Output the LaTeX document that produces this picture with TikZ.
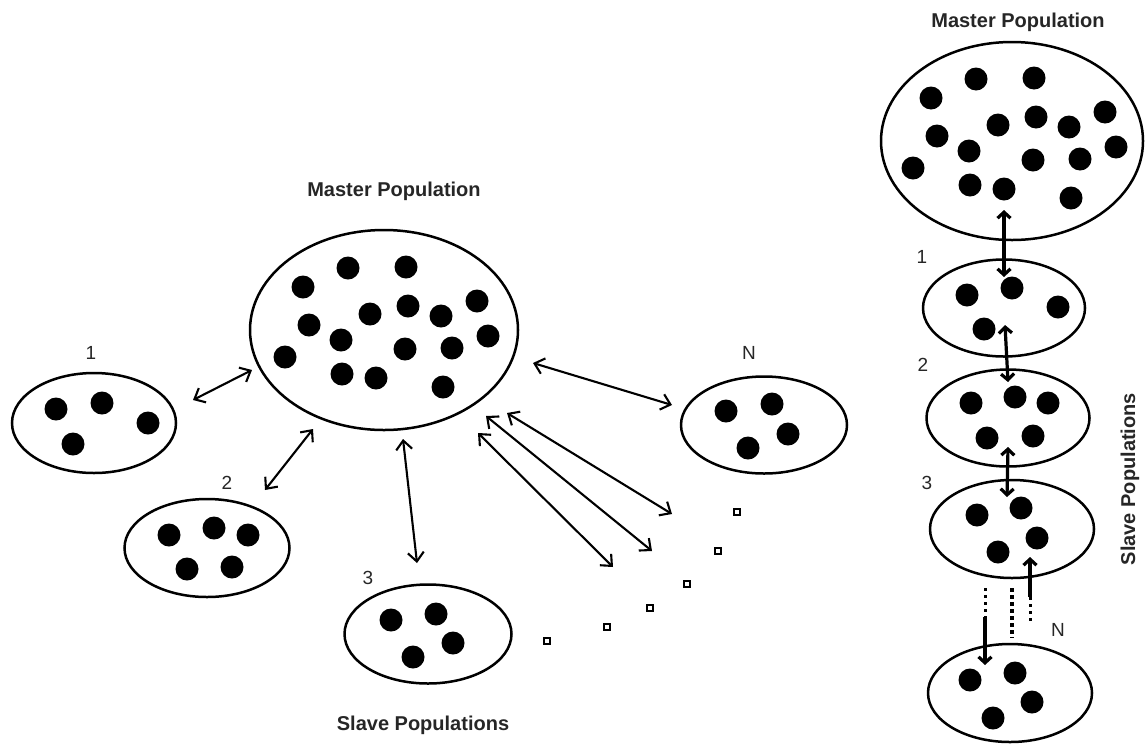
\documentclass[tikz,border=0pt]{standalone}
\usepackage{fontspec}
\setmainfont{Liberation Sans}
\usetikzlibrary{arrows.meta,shapes.geometric}
\begin{document}
\begin{tikzpicture}[x=1pt,y=-1pt,
  pop/.style 2 args={draw, ellipse, line width=2.5pt, inner sep=0pt, minimum width=#1pt, minimum height=#2pt},
  title/.style={font=\fontsize{20}{24}\selectfont\bfseries, text=black!85},
  lab/.style={font=\fontsize{19}{23}\selectfont, text=black!85},
  thin link/.style={line width=2.1pt, {Straight Barb[length=9pt,width=16pt]}-{Straight Barb[length=9pt,width=16pt]}},
  thick link/.style={line width=3.2pt, {Straight Barb[length=6pt,width=13pt]}-{Straight Barb[length=6pt,width=13pt]}},
  thick one/.style={line width=3.2pt, -{Straight Barb[length=6pt,width=13pt]}},
  dotline/.style={line width=3pt, dash pattern=on 2.5pt off 4.5pt},
  dotlinebig/.style={line width=4.5pt, dash pattern=on 4pt off 3pt},
  gap/.style={draw, line width=1.3pt, minimum size=6pt, inner sep=0pt},
  blob/.style={fill=black}
]
\useasboundingbox (0,0) rectangle (1147,745);

% ---------- left picture ----------
\node[pop={268}{200}] (m) at (384,330) {};
\begin{scope}[shift={(384,330)}]
  \foreach \p in {(-36,-62),(22,-63),(-81,-43),(93,-29),(24,-24),(-14,-16),(57,-14),(-75,-5),(104,6),(-43,10),(21,19),(68,18),(-99,27),(-42,44),(-8,48),(59,57)}
    \fill[blob] \p circle[radius=11.5];
\end{scope}
\node[title] (mt) at (394,191) {Master Population};

\node[pop={164}{100}] (s1) at (94,423) {};
\foreach \p in {(56,409),(102,403),(148,423),(73,444)} \fill[blob] \p circle[radius=11.5];
\node[lab] (l1) at (91,353) {1};

\node[pop={165}{98}] (s2) at (207,548) {};
\foreach \p in {(169,535),(214,528),(248,535),(187,569),(232,567)} \fill[blob] \p circle[radius=11.5];
\node[lab] (l2) at (227,483) {2};

\node[pop={167}{99}] (s3) at (428,634) {};
\foreach \p in {(391,620),(436,614),(453,643),(413,657)} \fill[blob] \p circle[radius=11.5];
\node[lab] (l3) at (368,578) {3};

\node[pop={166}{97}] (sN) at (764,425) {};
\foreach \p in {(726,411),(772,404),(788,434),(748,448)} \fill[blob] \p circle[radius=11.5];
\node[lab] (lN) at (749,353) {N};

\node[title] (st) at (423,725) {Slave Populations};

% arrow end points
\coordinate (a1s) at (193,400); \coordinate (a1m) at (252,370);
\coordinate (a2s) at (265,490); \coordinate (a2m) at (313,429);
\coordinate (a3m) at (403,439); \coordinate (a3s) at (417,563);
\coordinate (aNm) at (533,363); \coordinate (aNs) at (672,405);
\coordinate (aAm) at (507,413); \coordinate (aAs) at (672,514);
\coordinate (aBm) at (486,416); \coordinate (aBs) at (652,551);
\coordinate (aCm) at (478,433); \coordinate (aCs) at (613,567);

\draw[thin link] (a1s) -- (a1m);
\draw[thin link] (a2s) -- (a2m);
\draw[thin link] (a3m) -- (a3s);
\draw[thin link] (aNm) -- (aNs);
\draw[thin link] (aAm) -- (aAs);
\draw[thin link] (aBm) -- (aBs);
\draw[thin link] (aCm) -- (aCs);

\foreach \p/\n in {(737,512)/g1,(718,551)/g2,(687,584)/g3,(650,608)/g4,(607,627)/g5,(547,641)/g6}
  \node[gap] (\n) at \p {};

% ---------- right picture ----------
\node[pop={262}{198}] (M) at (1012,141) {};
\begin{scope}[shift={(1012,141)}]
  \foreach \p in {(-36,-62),(22,-63),(-81,-43),(93,-29),(24,-24),(-14,-16),(57,-14),(-75,-5),(104,6),(-43,10),(21,19),(68,18),(-99,27),(-42,44),(-8,48),(59,57)}
    \fill[blob] \p circle[radius=11.5];
\end{scope}
\node[title] (Mt) at (1018,22) {Master Population};

\node[pop={162}{97}] (R1) at (1004,308) {};
\foreach \p in {(967,295),(1012,288),(1058,307),(984,329)} \fill[blob] \p circle[radius=11.5];
\node[lab] (L1) at (922,257) {1};

\node[pop={163}{97}] (R2) at (1008,418) {};
\foreach \p in {(971,403),(1015,397),(1048,403),(987,438),(1033,436)} \fill[blob] \p circle[radius=11.5];
\node[lab] (L2) at (923,365) {2};

\node[pop={164}{98}] (R3) at (1012,529) {};
\foreach \p in {(977,515),(1021,508),(1037,538),(998,552)} \fill[blob] \p circle[radius=11.5];
\node[lab] (L3) at (927,483) {3};

\node[pop={164}{98}] (RN) at (1010,693) {};
\foreach \p in {(970,680),(1015,673),(1032,702),(993,718)} \fill[blob] \p circle[radius=11.5];
\node[lab] (LN) at (1058,630) {N};

\node[title, rotate=90] (St) at (1130,479) {Slave Populations};

\coordinate (b1t) at (1004,210); \coordinate (b1b) at (1004,277);
\coordinate (b2t) at (1005,325); \coordinate (b2b) at (1008,382);
\coordinate (b3t) at (1008,447); \coordinate (b3b) at (1007,497);
\coordinate (cRt) at (1030,557); \coordinate (cRm) at (1030,597); \coordinate (cRb) at (1030,624);
\coordinate (cMt) at (1012,588); \coordinate (cMb) at (1012,638);
\coordinate (cLt) at (985,588); \coordinate (cLm) at (985,617); \coordinate (cLb) at (985,665);

\draw[thick link] (b1t) -- (b1b);
\draw[thick link] (b2t) -- (b2b);
\draw[thick link] (b3t) -- (b3b);
\draw[thick one] (cRm) -- (cRt);
\draw[dotline] (cRm) -- (cRb);
\draw[dotlinebig] (cMt) -- (cMb);
\draw[dotline] (cLt) -- (cLm);
\draw[thick one] (cLm) -- (cLb);
\end{tikzpicture}
\end{document}
